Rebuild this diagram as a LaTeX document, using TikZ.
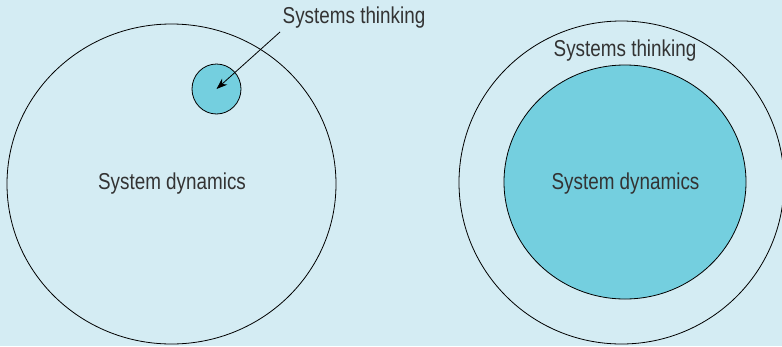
\documentclass[tikz,border=0pt]{standalone}
\usepackage{fontspec}
\setmainfont{Liberation Sans}[FakeStretch=0.82]
\usetikzlibrary{shapes.geometric,arrows.meta}
\definecolor{bgblue}{HTML}{D4ECF3}
\definecolor{inblue}{HTML}{74CFDF}
\definecolor{txtgray}{HTML}{333333}

\begin{document}
\begin{tikzpicture}[x=1pt,y=-1pt,
    blob/.style={draw=black, line width=0.8pt, ellipse, inner sep=0pt},
    lbl/.style={text=txtgray, font=\fontsize{23}{27}\selectfont, inner sep=0pt}]
    \fill [bgblue] (0,0) rectangle (782,346);
    \useasboundingbox (0,0) rectangle (782,346);
    % left: systems thinking inside system dynamics
    \node [blob, minimum width=329, minimum height=320] (sdbig) at (171.5,184) {};
    \node [lbl] (sdleft) at (172,184) {System dynamics};
    \node [blob, fill=inblue, minimum width=49, minimum height=50] (stsmall) at (216.5,89) {};
    \node [lbl] (stleft) at (354,18) {Systems thinking};
    \draw [line width=0.8pt, -{Stealth[length=11pt,width=8pt]}] (280,32) -- (stsmall.center);
    % right: system dynamics inside systems thinking
    \node [blob, minimum width=325, minimum height=323] (stbig) at (621.5,182.5) {};
    \node [blob, fill=inblue, minimum width=242, minimum height=234] (sdinner) at (625,182) {};
    \node [lbl] (stright) at (625,51) {Systems thinking};
    \node [lbl] (sdright) at (625.5,184) {System dynamics};
\end{tikzpicture}
\end{document}
